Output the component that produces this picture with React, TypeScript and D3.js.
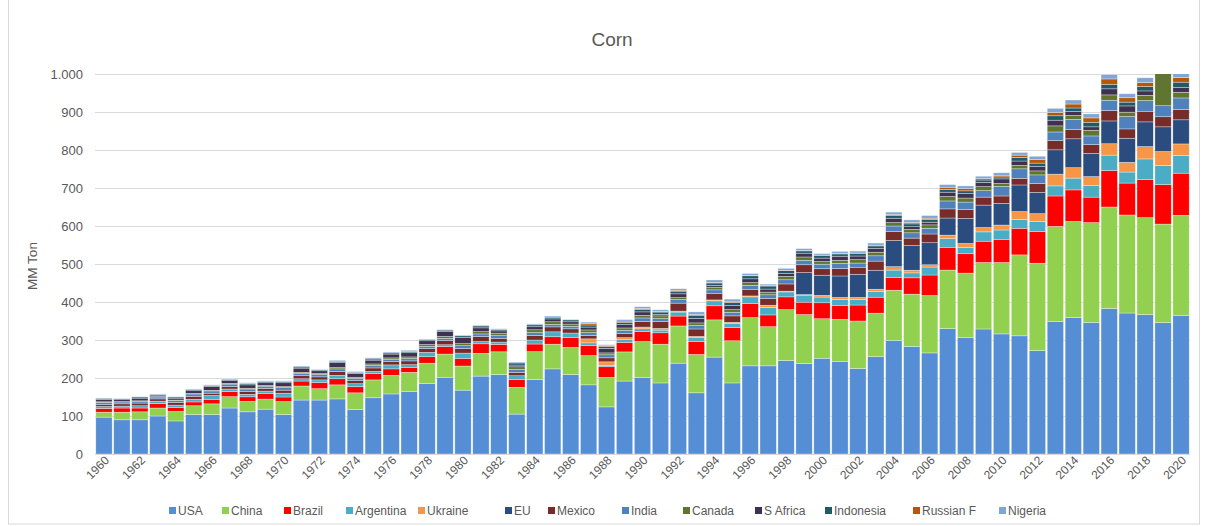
import React from "react";
import * as d3 from "d3";

// Corn production by country, million metric tons, 1960-2020
const years = d3.range(1960, 2021);

const usa = [97, 90, 90, 100, 87, 104, 104, 121, 111, 118, 104, 142, 142, 145, 117, 148, 158, 164, 185, 202, 168, 205, 209, 105, 196, 224, 209, 182, 124, 192, 201, 187, 239, 161, 255, 187, 232, 232, 246, 238, 252, 243, 225, 256, 299, 283, 266, 330, 306, 329, 316, 311, 272, 349, 359, 346, 383, 371, 367, 346, 365];
const china = [13, 20, 21, 21, 25, 23, 28, 30, 27.5, 26.5, 34, 37, 30, 37, 44, 47, 49, 51, 54, 61, 63.5, 60, 60, 70.5, 73.4, 65, 71.4, 77, 77.6, 76.7, 95, 102, 98, 101, 98, 111, 127, 103, 134, 129, 104, 111.5, 125, 114.6, 132, 137.6, 151, 154, 170, 175, 188, 213, 230, 250, 253, 263, 267, 258, 255, 259, 263];
const brazil = [10, 11, 10, 12, 10.5, 10, 12, 13, 12, 15, 12, 13, 16, 16, 16, 17, 17, 13, 17, 19.5, 20, 25, 19.5, 20, 20, 19.5, 26.5, 26.5, 28, 25, 26.5, 30, 26, 33.5, 37, 34.5, 37, 31, 33.5, 32.5, 42, 36, 42, 42, 33.5, 43, 54, 60, 51, 56, 61, 70, 83, 80, 83, 67, 96, 84, 100, 104, 111];
const argentina = [5, 5, 6, 6, 6, 7, 10, 7, 6.5, 6, 10, 6, 7, 9, 8, 5.5, 10.5, 7, 11.5, 5, 14, 6, 6, 10.5, 10.5, 13, 11.5, 7, 3.5, 7, 7, 7, 10.5, 10.5, 13, 10.5, 17.5, 19.5, 13, 18.5, 15, 16, 15, 15, 19.5, 13, 21, 23, 16.5, 24.5, 24.5, 23, 27, 26.5, 31, 30, 40.5, 29, 54.5, 50, 47];
const ukraine = [0, 0, 0, 0, 0, 0, 0, 0, 0, 0, 0, 0, 0, 0, 0, 0, 0, 0, 0, 0, 0, 0, 0, 0, 0, 0, 0, 10.5, 9.5, 5.5, 4.5, 4.5, 2.5, 3.5, 2.5, 3.5, 2.5, 6, 2, 1.5, 4.5, 5.5, 5, 6, 9, 7, 6, 9, 10.5, 11.5, 13, 21, 20.5, 31, 27.5, 24, 30, 25.5, 32.5, 37, 30];
const eu = [0, 0, 0, 0, 0, 0, 0, 0, 0, 0, 0, 0, 0, 0, 0, 0, 0, 0, 0, 0, 0, 0, 0, 0, 0, 0, 0, 0, 0, 0, 0, 0, 0, 0, 0, 0, 0, 0, 0, 58, 53, 56.5, 61, 50, 69, 65, 58, 45, 66, 59, 57, 70, 56, 64, 76, 61, 60, 63.5, 65, 65, 63.5];
const mexico = [5, 6, 7, 6, 7.5, 8, 6, 7, 8, 7, 8, 8, 8, 10, 8, 9, 9, 10, 10, 11, 12, 13, 10, 9, 12, 13, 11, 9, 10.5, 10.5, 15, 18, 21, 19.5, 17.5, 17, 17.5, 17.5, 19, 20.5, 17, 19.5, 18.5, 24, 24, 19.5, 23, 24, 23, 21, 19.5, 17.5, 23, 24, 24, 23, 27.5, 24.5, 28, 26.5, 27.5];
const india = [6, 5, 5, 5, 5, 6, 6, 6, 6, 6, 7, 6, 6, 7, 6, 7, 6, 6, 6, 6, 7.5, 7, 7, 8, 8, 6.5, 6.5, 7.5, 8, 9, 9, 8, 9.5, 9.5, 9, 9.5, 10.5, 10, 11, 11.5, 12, 13.5, 11, 14, 14, 14, 15, 21, 20, 17, 25, 25, 23, 23, 27, 23, 27, 32.5, 28, 29, 30];
const canada = [1.5, 1, 1, 1, 1, 1.5, 1.5, 2, 2, 2, 2.5, 3, 3, 3.5, 3, 3.5, 3.5, 4.5, 4.5, 5, 5.5, 6, 6.5, 6.5, 7, 7, 6, 7, 5, 6, 7, 7, 5, 6.5, 7, 7, 7, 7, 9, 9, 7, 8, 9, 9.5, 9, 9, 9, 11.5, 10.5, 10.5, 8, 9, 10.5, 16, 10.5, 15, 14, 11.5, 14, 85, 15];
const sAfrica = [6, 5, 7, 4, 5, 7, 10, 7, 9, 7, 10, 11, 7, 13, 10, 10, 10, 11, 10, 12.5, 16, 10, 6, 4.5, 8, 7.5, 6, 7.5, 12, 9, 9, 3.5, 10, 12, 4.5, 11, 10, 8, 7.5, 10, 9, 11, 9.5, 9.5, 11.5, 7, 7, 11.5, 12, 11.5, 12, 11.5, 11.5, 15, 10.5, 9, 16, 16.5, 11.5, 15, 12.5];
const indonesia = [3, 2.5, 3, 2, 3, 3, 3, 3, 3.5, 3, 3, 3, 2.5, 3.5, 3, 3, 3, 3.5, 3, 4, 4.5, 5, 4, 5.5, 5, 4.5, 5, 5.5, 5, 6, 6.5, 6.5, 7, 7, 6.5, 8, 8, 8, 7.5, 6, 6.5, 6, 6.5, 7, 7, 7.5, 7, 7, 7, 6, 5, 9.5, 9, 11.5, 9, 12, 12, 10, 11.5, 12, 14];
const russia = [0, 0, 0, 0, 0, 0, 0, 0, 0, 0, 0, 0, 0, 0, 0, 0, 0, 0, 0, 0, 0, 0, 0, 0, 0, 0, 0, 3.5, 2, 3, 2.5, 2, 2.5, 3, 1.5, 1.5, 1, 1, 1, 1, 1.5, 1.5, 1.5, 2, 3, 3.5, 3.5, 6, 6, 3.5, 3, 6, 9, 9, 10.5, 11.5, 14, 11.5, 10.5, 14, 12.5];
const nigeria = [1, 1, 1, 1, 1, 1.5, 1.5, 2, 2, 2, 2, 2.5, 1.5, 2.5, 2, 3, 2.5, 3, 1.5, 1.5, 2, 2, 1.5, 2.5, 2.5, 3, 1.5, 4, 2.5, 4, 4.5, 4, 4, 7, 6.5, 7, 5, 4, 5, 5, 4, 5, 5, 5.5, 6, 7, 7, 7, 7, 6.5, 8, 7, 9, 10.5, 10.5, 10.5, 11.5, 10.5, 12.5, 11, 10];

const seriesNames = ["USA", "China", "Brazil", "Argentina", "Ukraine", "EU", "Mexico", "India", "Canada", "S Africa", "Indonesia", "Russian F", "Nigeria"];
const seriesValues = [usa, china, brazil, argentina, ukraine, eu, mexico, india, canada, sAfrica, indonesia, russia, nigeria];
const seriesColors = ["#558ED5", "#92D050", "#FF0000", "#4BACC6", "#F79646", "#2B4C7E", "#772C2A", "#4F81BD", "#5F7530", "#403152", "#215968", "#B65708", "#7FA6D6"];

const yTicks = [0, 100, 200, 300, 400, 500, 600, 700, 800, 900, 1000];

const W = 1205;
const H = 526;
const plot = { left: 95, right: 1190, top: 74, bottom: 454 };
// legend swatch x positions along the bottom row
const legendX = [169, 222, 284, 346, 418, 505, 548, 622, 683, 755, 825, 913, 999];

const fmt = (v: number) => (v >= 1000 ? d3.format(",")(v).replace(",", ".") : String(v));

export default function App() {
  const rows = years.map((yr, i) => {
    const r: Record<string, number> = { year: yr };
    seriesNames.forEach((n, k) => (r[n] = seriesValues[k][i]));
    return r;
  });
  const stacked = d3.stack<Record<string, number>>().keys(seriesNames)(rows);

  const x = d3
    .scaleBand<string>()
    .domain(years.map(String))
    .range([plot.left, plot.right])
    .paddingInner(0.09)
    .paddingOuter(0.045);
  const y = d3.scaleLinear().domain([0, 1000]).range([plot.bottom, plot.top]);

  const font = "'Liberation Sans', Arial, sans-serif";
  const textColor = "#595959";

  return (
    <svg
      width={W}
      height={H}
      style={{ position: "absolute", left: 0, top: 0, background: "#fff" }}
      fontFamily={font}
    >
      <defs>
        <clipPath id="plotClip">
          <rect x={plot.left - 2} y={y(1000)} width={plot.right - plot.left + 4} height={plot.bottom - y(1000)} />
        </clipPath>
      </defs>
      <rect x={8.5} y={-2} width={1191} height={526} fill="#fff" stroke="#d9d9d9" />

      <text x={612} y={46} textAnchor="middle" fontSize={19} fill={textColor}>
        Corn
      </text>

      {yTicks.map((t) => (
        <g key={t}>
          <line x1={plot.left} x2={plot.right} y1={Math.round(y(t)) + 0.5} y2={Math.round(y(t)) + 0.5} stroke="#d9d9d9" strokeWidth={1} />
          <text x={83} y={y(t) + 4.5} textAnchor="end" fontSize={13} fill={textColor}>
            {fmt(t)}
          </text>
        </g>
      ))}

      <text transform={`translate(37,${(plot.top + plot.bottom) / 2 + 2}) rotate(-90)`} textAnchor="middle" fontSize={13.5} fill={textColor}>
        MM Ton
      </text>

      <g clipPath="url(#plotClip)">
        {stacked.map((layer, k) => (
          <g key={layer.key} fill={seriesColors[k]}>
            {layer.map((d, i) => {
              const h = y(d[0]) - y(d[1]);
              if (h <= 0) return null;
              return (
                <rect
                  key={i}
                  x={x(String(years[i]))}
                  y={y(d[1])}
                  width={x.bandwidth()}
                  height={h}
                  stroke="#ffffff"
                  strokeOpacity={0.55}
                  strokeWidth={0.6}
                />
              );
            })}
          </g>
        ))}
      </g>

      {years
        .filter((yr) => (yr - 1960) % 2 === 0)
        .map((yr) => {
          const cx = (x(String(yr)) as number) + x.bandwidth() / 2;
          return (
            <text
              key={yr}
              transform={`translate(${cx + 6},${plot.bottom + 7}) rotate(-45)`}
              textAnchor="end"
              fontSize={12}
              fill={textColor}
            >
              {yr}
            </text>
          );
        })}

      {seriesNames.map((n, k) => (
        <g key={n}>
          <rect x={legendX[k]} y={507} width={7} height={7} fill={seriesColors[k]} />
          <text x={legendX[k] + 9} y={515} fontSize={12} fill={textColor}>
            {n}
          </text>
        </g>
      ))}
    </svg>
  );
}
